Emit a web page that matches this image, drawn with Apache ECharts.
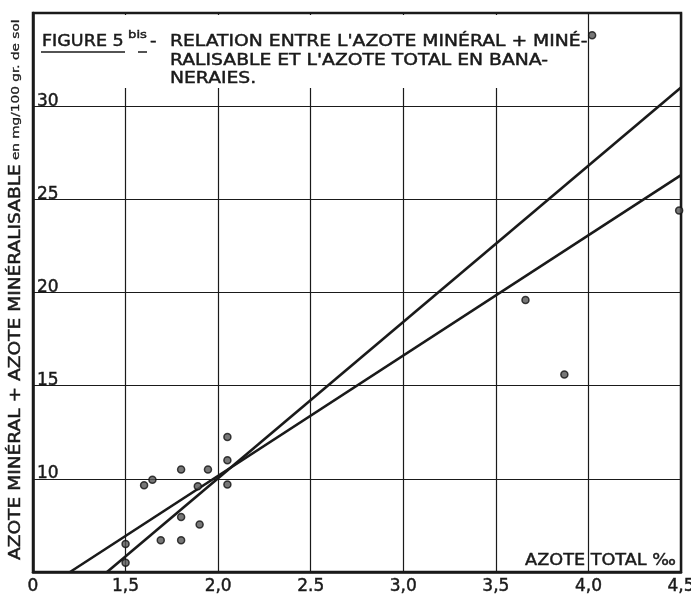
<!DOCTYPE html>
<html>
<head>
<meta charset="utf-8">
<script src="https://cdn.jsdelivr.net/npm/echarts@6/dist/echarts.min.js"></script>
<style>
html,body{margin:0;padding:0;background:#fff;}
#chart{width:691px;height:598px;}
</style>
</head>
<body>
<div id="chart"></div>
<script>
// ---- data ----
var xTickValues = [1.0, 1.5, 2.0, 2.5, 3.0, 3.5, 4.0, 4.5];
var xTickLabels = ['0', '1,5', '2,0', '2.5', '3,0', '3,5', '4,0', '4,5'];
var yTickValues = [10, 15, 20, 25, 30];
var yTickLabels = ['10', '15', '20', '25', '30'];

var azoteTotal = [1.50, 1.50, 1.60, 1.645, 1.69, 1.80, 1.80, 1.80, 1.90, 1.89, 1.945, 2.05, 2.05, 2.05, 3.66, 3.87, 4.49, 4.02];
var azoteMineral = [6.5, 5.5, 9.65, 9.95, 6.7, 6.7, 7.95, 10.5, 7.55, 9.6, 10.5, 12.25, 11.0, 9.7, 19.6, 15.6, 24.4, 33.8];

var lineA = [[1.40, 5], [4.5, 31.0]];
var lineB = [[1.20, 5], [4.5, 26.3]];

var titleLines = ['RELATION ENTRE L\'AZOTE MINÉRAL + MINÉ-', 'RALISABLE ET L\'AZOTE TOTAL EN BANA-', 'NERAIES.'];
var yTitleMain = 'AZOTE MINÉRAL + AZOTE MINÉRALISABLE';
var yTitleUnit = 'en mg/100 gr. de sol';
var xTitle = 'AZOTE TOTAL ‰';

var FONTFAM = '"DejaVu Sans", sans-serif';
var INK = '#1a1a1a';
var SW = 0.45; // slight stroke to mimic the lettering-pen weight

var points = azoteTotal.map(function (x, i) { return [x, azoteMineral[i]]; });

function lbl(values, labels) {
  return function (v) {
    for (var i = 0; i < values.length; i++) {
      if (Math.abs(values[i] - v) < 1e-6) return labels[i];
    }
    return '';
  };
}
function txt(text, size, x, y, sx, align) {
  return {type: 'text', z: 10, x: x, y: y, scaleX: sx, silent: true,
    style: {text: text, font: size + 'px ' + FONTFAM, fill: INK, stroke: INK, lineWidth: SW,
      align: align || 'left', verticalAlign: 'middle'}};
}

var chart = echarts.init(document.getElementById('chart'), null, {renderer: 'canvas'});
chart.setOption({
  backgroundColor: '#ffffff',
  animation: false,
  grid: {
    left: 33, right: 10, top: 13, bottom: 26,
    outerBoundsMode: 'none', containLabel: false,
    show: true, borderColor: INK, borderWidth: 2.5, backgroundColor: 'transparent'
  },
  xAxis: {
    type: 'value', min: 1.0, max: 4.5, interval: 0.5,
    axisLine: {show: true, onZero: false, lineStyle: {color: INK, width: 2.5}},
    axisTick: {show: false},
    splitLine: {show: true, lineStyle: {color: INK, width: 1.2}},
    axisLabel: {
      margin: 6, fontFamily: FONTFAM, fontSize: 17, color: INK,
      textBorderColor: INK, textBorderWidth: SW,
      formatter: lbl(xTickValues, xTickLabels)
    }
  },
  yAxis: {
    type: 'value', min: 5, max: 35, interval: 5,
    axisLine: {show: true, onZero: false, lineStyle: {color: INK, width: 2.5}},
    axisTick: {show: false},
    splitLine: {show: true, lineStyle: {color: INK, width: 1.2}},
    axisLabel: {
      inside: true, margin: 4, verticalAlign: 'bottom', lineHeight: 10,
      fontFamily: FONTFAM, fontSize: 17, color: INK,
      textBorderColor: INK, textBorderWidth: SW,
      formatter: lbl(yTickValues, yTickLabels)
    }
  },
  graphic: [
    // white box behind the caption (hides grid lines there, like the original)
    {type: 'rect', z: 1, silent: true, shape: {x: 35, y: 15, width: 551, height: 73}, style: {fill: '#ffffff'}},
    txt('FIGURE 5', 15, 42, 42.5, 1.17),
    txt('bis', 11, 128, 35, 1.2),
    txt('-', 15, 150, 42.5, 1.2),
    txt(titleLines[0], 15, 170, 42.5, 1.25),
    txt(titleLines[1], 15, 170, 61, 1.25),
    txt(titleLines[2], 15, 170, 79.5, 1.25),
    {type: 'line', z: 10, shape: {x1: 41, y1: 52, x2: 125, y2: 52}, style: {stroke: INK, lineWidth: 1.5}},
    {type: 'line', z: 10, shape: {x1: 138, y1: 52, x2: 147, y2: 52}, style: {stroke: INK, lineWidth: 1.5}},
    // y axis title (vertical)
    {type: 'text', z: 10, x: 16, y: 560, rotation: Math.PI / 2, scaleX: 1.24, silent: true,
      style: {
        text: '{a|' + yTitleMain + '} {b|' + yTitleUnit + '}',
        align: 'left', verticalAlign: 'middle', fill: INK,
        rich: {
          a: {font: '15px ' + FONTFAM, fill: INK, stroke: INK, lineWidth: SW},
          b: {font: '11px ' + FONTFAM, fill: INK, stroke: INK, lineWidth: 0.3}
        }
      }},
    // x axis title (inside plot, bottom right)
    txt(xTitle, 16.5, 676, 561, 1.07, 'right')
  ],
  series: [
    {
      type: 'line', data: lineA, symbol: 'none', z: 3,
      lineStyle: {color: INK, width: 2.6}
    },
    {
      type: 'line', data: lineB, symbol: 'none', z: 3,
      lineStyle: {color: INK, width: 2.6}
    },
    {
      type: 'scatter', data: points, symbol: 'circle', symbolSize: 7, z: 4,
      itemStyle: {color: '#555', borderColor: '#111', borderWidth: 1.5}
    }
  ]
});
</script>
</body>
</html>
